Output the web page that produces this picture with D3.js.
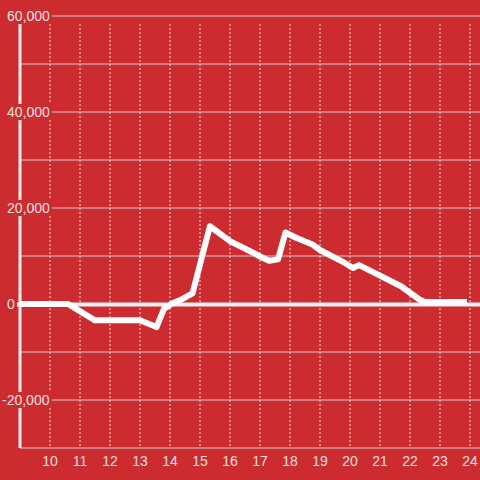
<!DOCTYPE html>
<html>
<head>
<meta charset="utf-8">
<script src="https://cdn.jsdelivr.net/npm/d3@7"></script>
<style>
  html, body { margin: 0; padding: 0; background: #cc2b2f; }
  svg { display: block; }
  text { font-family: "Liberation Sans", Arial, sans-serif; font-size: 14px; fill: #f4e0e0; }
</style>
</head>
<body>
<div id="chart"></div>
<script>
// values
const hours = [9, 10.6, 11.5, 13.0, 13.55, 13.8, 14.1, 14.4, 14.75, 15.33, 16.0, 16.67, 17.0, 17.3, 17.6, 17.85, 18.2, 18.75, 19.0, 19.7, 20.1, 20.3, 21.0, 21.7, 22.3, 22.5, 23.9];
const values = [0, 0, -3400, -3400, -4800, -1000, 200, 1000, 2200, 16200, 13100, 11000, 9900, 9000, 9300, 14900, 13800, 12400, 11250, 9000, 7500, 8100, 5900, 3700, 1000, 400, 400];
const xTicks = [10, 11, 12, 13, 14, 15, 16, 17, 18, 19, 20, 21, 22, 23, 24];
const yGrid = [-20000, -10000, 10000, 20000, 30000, 40000, 50000, 60000];
const yLabels = [60000, 40000, 20000, 0, -20000];

const width = 480, height = 480;

const svg = d3.select('#chart')
    .append('svg')
    .attr('width', width)
    .attr('height', height);

svg.append('rect')
    .attr('width', width)
    .attr('height', height)
    .attr('fill', '#cc2b2f');

const x = d3.scaleLinear().domain([9, 24 + 1 / 3]).range([20, 480]);
const y = d3.scaleLinear().domain([-30000, 60000]).range([448, 16]);

// horizontal grid
svg.selectAll('.hgrid')
    .data(yGrid)
    .enter()
    .append('line')
    .attr('x1', 20)
    .attr('x2', width)
    .attr('y1', d => y(d))
    .attr('y2', d => y(d))
    .attr('stroke', '#cfcfcf')
    .attr('stroke-width', 1);

// vertical dashed grid
svg.selectAll('.vgrid')
    .data(xTicks)
    .enter()
    .append('line')
    .attr('x1', d => x(d))
    .attr('x2', d => x(d))
    .attr('y1', 24)
    .attr('y2', 448)
    .attr('stroke', '#e0e0e0')
    .attr('stroke-width', 1)
    .attr('stroke-dasharray', '2,2');

// bottom axis line
svg.append('line')
    .attr('x1', 20)
    .attr('x2', width)
    .attr('y1', y(-30000))
    .attr('y2', y(-30000))
    .attr('stroke', '#cfcfcf')
    .attr('stroke-width', 1);

// left axis
svg.append('line')
    .attr('x1', x(9))
    .attr('x2', x(9))
    .attr('y1', 16)
    .attr('y2', 448)
    .attr('stroke', '#eeeeee')
    .attr('stroke-width', 3);

// y labels with background boxes
const yl = svg.selectAll('.ylabel')
    .data(yLabels)
    .enter()
    .append('g')
    .attr('transform', d => `translate(${d < 0 ? 2 : 7},${y(d)})`);

yl.append('text')
    .attr('dy', '0.36em')
    .text(d => d3.format(',')(d).replace('−', '-'));

yl.each(function () {
    const g = d3.select(this);
    const bb = g.select('text').node().getBBox();
    g.insert('rect', 'text')
        .attr('x', bb.x - 2)
        .attr('y', -8)
        .attr('width', bb.width + 4)
        .attr('height', 16)
        .attr('fill', '#cc2b2f');
});

// zero line
svg.append('line')
    .attr('x1', 17)
    .attr('x2', width)
    .attr('y1', y(0) + 0.5)
    .attr('y2', y(0) + 0.5)
    .attr('stroke', '#f2f2f2')
    .attr('stroke-width', 4);

// x labels
svg.selectAll('.xlabel')
    .data(xTicks)
    .enter()
    .append('text')
    .attr('x', d => x(d))
    .attr('y', 466)
    .attr('text-anchor', 'middle')
    .text(d => d);

// data line
const line = d3.line()
    .x((d, i) => x(hours[i]))
    .y(d => y(d));

svg.append('path')
    .datum(values)
    .attr('d', line)
    .attr('fill', 'none')
    .attr('stroke', '#ffffff')
    .attr('stroke-width', 6)
    .attr('stroke-linejoin', 'round');
</script>
</body>
</html>
